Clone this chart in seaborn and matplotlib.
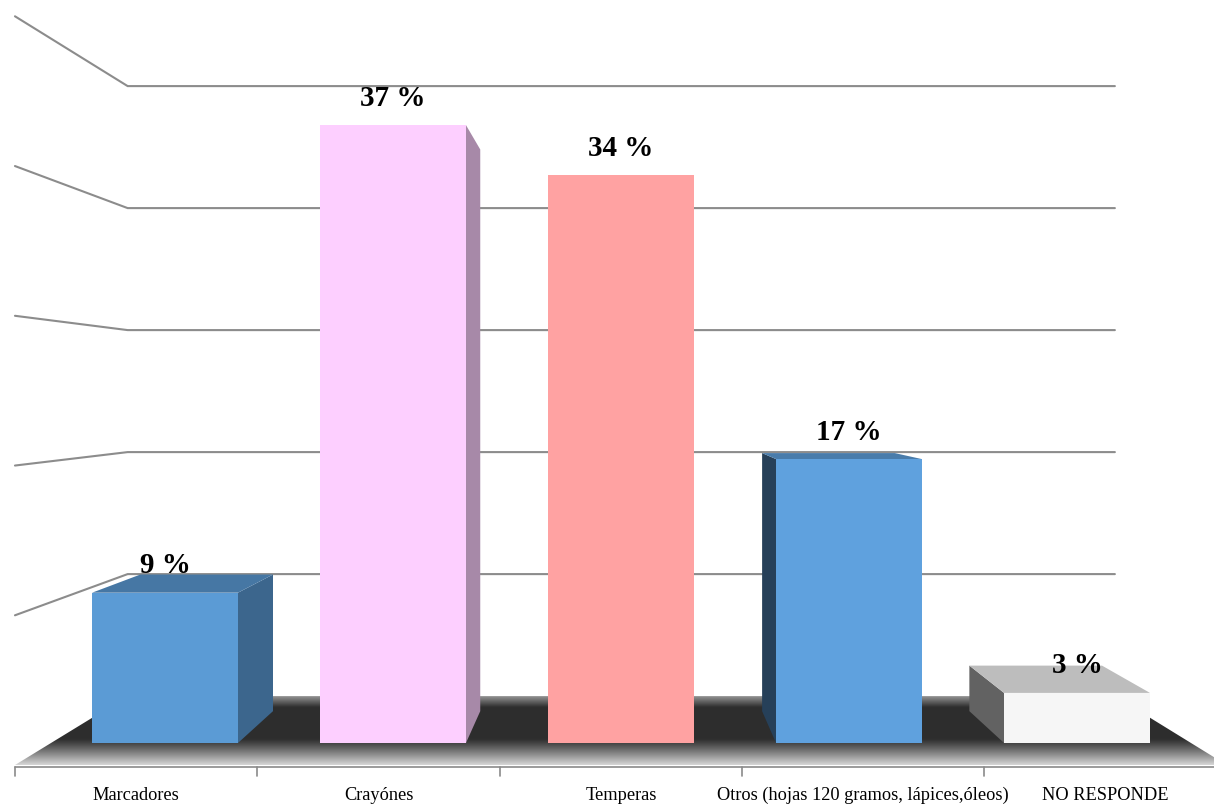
import numpy as np
import pandas as pd
import matplotlib
matplotlib.use("Agg")
import matplotlib.pyplot as plt
import seaborn as sns
from matplotlib.patches import Polygon
from matplotlib.colors import to_rgb

# ---------------- data ----------------
categories = ["Marcadores", "Crayónes", "Temperas",
              "Otros (hojas 120 gramos, lápices,óleos)", "NO RESPONDE"]
values = [9, 37, 34, 17, 3]
value_labels = ["9 %", "37 %", "34 %", "17 %", "3 %"]
bar_colors = ["#5B9BD5", "#FDCFFF", "#FFA2A2", "#5FA1DE", "#F6F6F6"]
wall_ticks = [10, 20, 30, 40, 50]

# ---------------- layout (pixels) ----------------
W, H = 1214, 806
VPX, VPY = 623, 393            # vanishing point of the pseudo-3D view
FX0, FDX, FY0, FSY = 165, 228, 743, 16.7   # front plane of the bars
BAR_DEPTH = 0.091              # bar depth as a fraction towards the VP
BACK_WALL = 0.866              # back wall scale relative to bar front plane
FRONT_WALL = 1.063             # floor/axis front edge scale
WALL_STEP = 12.2               # px per wall unit on the back wall


def d2p(x, y):
    return FX0 + FDX * x, FY0 - FSY * y


def p2d(px, py):
    return (px - FX0) / FDX, (FY0 - py) / FSY


def scale_pt(px, py, s):
    return VPX + s * (px - VPX), VPY + s * (py - VPY)


def shade(c, k):
    r, g, b = to_rgb(c)
    return (r * k, g * k, b * k)


sns.set_theme(style="white")
plt.rcParams["font.family"] = ["Liberation Serif", "DejaVu Serif"]

fig = plt.figure(figsize=(W / 100, H / 100), dpi=100)
ax = fig.add_axes([0, 0, 1, 1])

df = pd.DataFrame({"cat": categories, "val": values})
sns.barplot(data=df, x="cat", y="val", hue="cat", palette=bar_colors,
            order=categories, hue_order=categories, saturation=1,
            width=0.64, legend=False, ax=ax, zorder=5, linewidth=0)

x0d, y1d = p2d(0, 0)
x1d, y0d = p2d(W, H)
ax.set_xlim(x0d, x1d)
ax.set_ylim(y0d, y1d)
ax.set_axis_off()


def poly_px(pts, **kw):
    ax.add_patch(Polygon([p2d(*p) for p in pts], closed=True, **kw))


# ---------------- floor ----------------
bl = scale_pt(*d2p(-0.5, 0), BACK_WALL)
br = scale_pt(*d2p(len(categories) - 0.5, 0), BACK_WALL)
fl = scale_pt(*d2p(-0.5, 0), FRONT_WALL)
fr = scale_pt(*d2p(len(categories) - 0.5, 0), FRONT_WALL)
floor = Polygon([p2d(*bl), p2d(*br), p2d(*fr), p2d(*fl)], closed=True,
                facecolor="none", edgecolor="none", zorder=1)
ax.add_patch(floor)
rows = np.linspace(bl[1], fr[1], 300)
col = []
band = 26.0
for r in rows:
    t_back = (r - bl[1]) / 11.0
    t_front = (r - (fr[1] - band)) / band
    if t_back < 1:
        v = 0.58 - 0.40 * t_back
    elif t_front > 0:
        v = 0.18 + 0.66 * min(t_front, 1) ** 1.1
    else:
        v = 0.18
    col.append([v, v, v])
grad = np.array(col).reshape(-1, 1, 3)
gx0, gy0 = p2d(fl[0], fr[1])
gx1, gy1 = p2d(fr[0], bl[1])
im = ax.imshow(grad, extent=[gx0, gx1, gy0, gy1], aspect="auto",
               origin="upper", zorder=1, interpolation="bilinear")
im.set_clip_path(floor)
ax.set_xlim(x0d, x1d)
ax.set_ylim(y0d, y1d)

# ---------------- walls / gridlines ----------------
for t in wall_ticks:
    gy = bl[1] - WALL_STEP * t
    a = (bl[0], gy)
    b = (br[0], gy)
    c = scale_pt(bl[0], gy, FRONT_WALL / BACK_WALL)
    xs, ys = zip(p2d(*c), p2d(*a), p2d(*b))
    ax.plot(xs, ys, color="#8C8C8C", lw=1.5, zorder=0.5,
            solid_joinstyle="miter")

# ---------------- axis line & ticks ----------------
axy = fr[1] + 2
xa, ya = p2d(fl[0], axy)
xb, _ = p2d(W, axy)
ax.plot([xa, xb], [ya, ya], color="#8A8A8A", lw=1.2, zorder=2)
for k in range(len(categories) + 1):
    tx, _ = scale_pt(*d2p(k - 0.5, 0), FRONT_WALL)
    p0 = p2d(tx, axy)
    p1 = p2d(tx, axy + 9)
    ax.plot([p0[0], p1[0]], [p0[1], p1[1]], color="#8A8A8A", lw=1.2, zorder=2)
for i, name in enumerate(categories):
    cx, _ = scale_pt(*d2p(i, 0), FRONT_WALL)
    ax.text(*p2d(cx, 800), name, ha="center", va="baseline",
            fontsize=13.2, color="black", zorder=6)

# ---------------- 3D faces of the bars ----------------
half = 0.32
for i, (v, c) in enumerate(zip(values, bar_colors)):
    xl, yt = d2p(i - half, v)
    xr, yb = d2p(i + half, 0)
    corners = {"tl": (xl, yt), "tr": (xr, yt), "bl": (xl, yb), "br": (xr, yb)}
    back = {k: scale_pt(*p, 1 - BAR_DEPTH) for k, p in corners.items()}
    if xr < VPX:   # right side visible
        poly_px([corners["tr"], back["tr"], back["br"], corners["br"]],
                facecolor=shade(c, 0.66), edgecolor="none", zorder=4)
    if xl > VPX:   # left side visible
        poly_px([corners["tl"], back["tl"], back["bl"], corners["bl"]],
                facecolor=shade(c, 0.40), edgecolor="none", zorder=4)
    if yt > VPY:   # top visible
        poly_px([corners["tl"], corners["tr"], back["tr"], back["tl"]],
                facecolor=shade(c, 0.77), edgecolor="none", zorder=4)

# ---------------- value labels ----------------
for i, (v, lab) in enumerate(zip(values, value_labels)):
    ax.annotate(lab, (i, v), xytext=(0, 19.5), textcoords="offset points",
                ha="center", va="center", fontsize=21, fontweight="bold",
                color="black", zorder=7)

fig.savefig("out.png", dpi=100)
